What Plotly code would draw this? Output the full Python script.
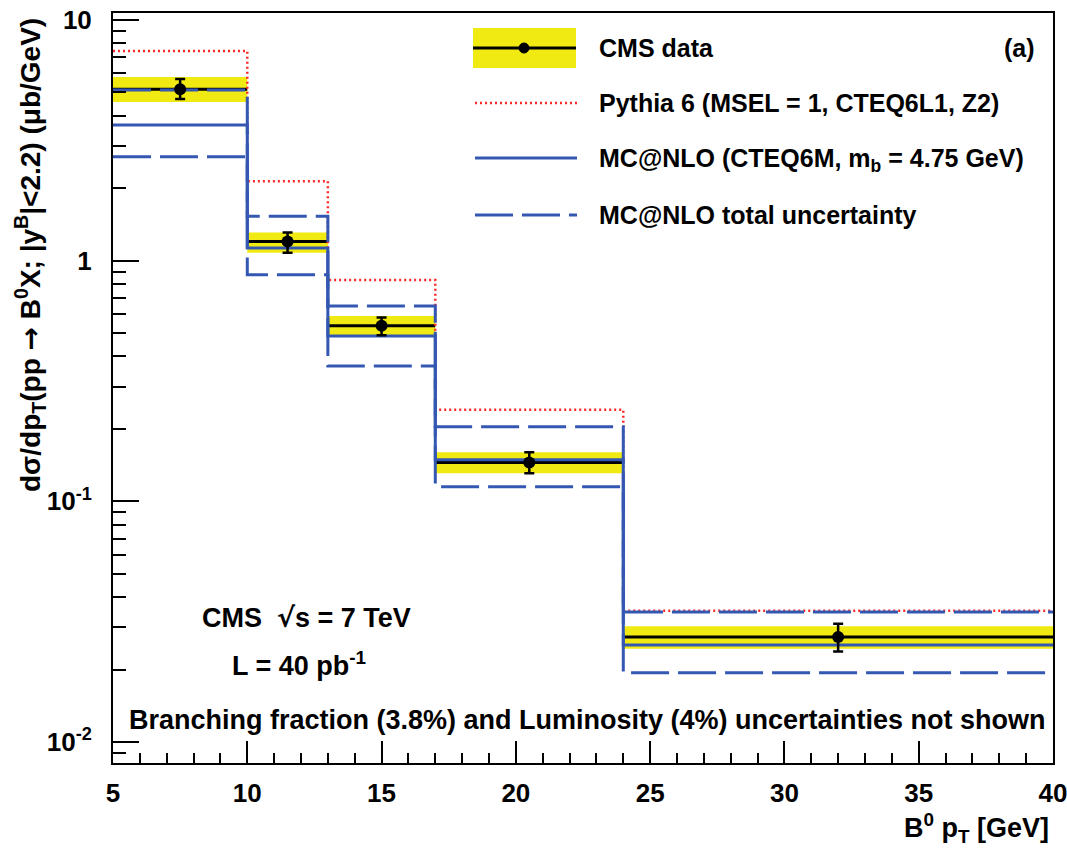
import plotly.graph_objects as go

# ---- data ----
bin_edges = [5, 10, 13, 17, 24, 40]
data_x = [7.5, 11.5, 15.0, 20.5, 32.0]
data_y = [5.15, 1.20, 0.536, 0.145, 0.0273]
data_err_up = [0.53, 0.11, 0.045, 0.015, 0.0037]
data_err_dn = [0.45, 0.12, 0.046, 0.014, 0.0035]
band_lo = [4.56, 1.08, 0.491, 0.131, 0.0244]
band_hi = [5.80, 1.31, 0.589, 0.160, 0.0303]
pythia = [7.43, 2.14, 0.832, 0.240, 0.0351]
mcnlo = [3.66, 1.13, 0.487, 0.149, 0.0253]
mcnlo_up = [5.12, 1.53, 0.648, 0.204, 0.0347]
mcnlo_dn = [2.70, 0.873, 0.365, 0.115, 0.0194]

y_tickvals = [0.01, 0.1, 1, 10]
y_ticktext = ["10<sup>-2</sup>", "10<sup>-1</sup>", "1", "10"]

# ---- style ----
FONT = "Liberation Sans Narrow, Arial Narrow, Liberation Sans, Arial"
BLUE = "rgb(52,88,178)"
RED = "rgb(255,40,40)"
YELLOW = "rgb(240,234,18)"
W, H = 1067, 854
L, R, T, B = 113, 14, 13, 91
PW, PH = W - L - R, H - T - B


def px(xp):
    return (xp - L) / PW


def py(yp):
    return (H - B - yp) / PH


def step_xy(vals):
    return list(bin_edges), list(vals) + [vals[-1]]


fig = go.Figure()

# yellow data bands
for i in range(len(band_lo)):
    x0, x1 = bin_edges[i], bin_edges[i + 1]
    fig.add_trace(go.Scatter(
        x=[x0, x1, x1, x0, x0], y=[band_lo[i], band_lo[i], band_hi[i], band_hi[i], band_lo[i]],
        fill="toself", fillcolor=YELLOW, line=dict(width=0), mode="lines",
        hoverinfo="skip", showlegend=False))

# data central horizontal lines
seg_x, seg_y = [], []
for i, v in enumerate(data_y):
    seg_x += [bin_edges[i], bin_edges[i + 1], None]
    seg_y += [v, v, None]
fig.add_trace(go.Scatter(x=seg_x, y=seg_y, mode="lines",
                         line=dict(color="black", width=3), showlegend=False))

# Pythia
sx, sy = step_xy(pythia)
fig.add_trace(go.Scatter(x=sx, y=sy, mode="lines", line_shape="hv",
                         line=dict(color=RED, width=2.5, dash="2px,3px"), showlegend=False))
# MC@NLO uncertainties
for vals in (mcnlo_up, mcnlo_dn):
    sx, sy = step_xy(vals)
    fig.add_trace(go.Scatter(x=sx, y=sy, mode="lines", line_shape="hv",
                             line=dict(color=BLUE, width=3, dash="38px,9px"), showlegend=False))
# MC@NLO central
sx, sy = step_xy(mcnlo)
fig.add_trace(go.Scatter(x=sx, y=sy, mode="lines", line_shape="hv",
                         line=dict(color=BLUE, width=3), showlegend=False))

# data points
fig.add_trace(go.Scatter(
    x=data_x, y=data_y, mode="markers",
    marker=dict(color="black", size=12, symbol="circle"),
    error_y=dict(type="data", array=data_err_up, arrayminus=data_err_dn,
                 color="black", thickness=2.5, width=5),
    showlegend=False))

# ---- manual legend ----
shapes = []
shapes.append(dict(type="rect", xref="paper", yref="paper", x0=px(473), x1=px(576),
                   y0=py(68), y1=py(28), fillcolor=YELLOW, line=dict(width=0), layer="above"))
shapes.append(dict(type="line", xref="paper", yref="paper", x0=px(473), x1=px(576),
                   y0=py(48), y1=py(48), line=dict(color="black", width=3), layer="above"))
shapes.append(dict(type="circle", xref="paper", yref="paper", x0=px(519), x1=px(529),
                   y0=py(53), y1=py(43), fillcolor="black", line=dict(color="black", width=1),
                   layer="above"))
shapes.append(dict(type="line", xref="paper", yref="paper", x0=px(475), x1=px(577),
                   y0=py(103), y1=py(103), line=dict(color=RED, width=2.5, dash="2px,3px"),
                   layer="above"))
shapes.append(dict(type="line", xref="paper", yref="paper", x0=px(475), x1=px(577),
                   y0=py(158), y1=py(158), line=dict(color=BLUE, width=3), layer="above"))
shapes.append(dict(type="line", xref="paper", yref="paper", x0=px(475), x1=px(577),
                   y0=py(215), y1=py(215), line=dict(color=BLUE, width=3, dash="38px,9px"),
                   layer="above"))

annots = []


def text(s, xp, yp, size=25, xanchor="left", yanchor="middle", angle=0):
    annots.append(dict(text=s, xref="paper", yref="paper", x=px(xp), y=py(yp),
                       xanchor=xanchor, yanchor=yanchor, showarrow=False, textangle=angle,
                       font=dict(family=FONT, size=size, color="black", weight="bold")))


ARROW = "<span style='font-family:DejaVu Sans'>→</span>"
ROOT = "<span style='font-family:DejaVu Sans'>√</span>"

text("CMS data", 597, 48)
text("(a)", 1037, 48, xanchor="right")
text("Pythia 6 (MSEL = 1, CTEQ6L1, Z2)", 597, 103)
text("MC@NLO (CTEQ6M, m<sub>b</sub> = 4.75 GeV)", 597, 160)
text("MC@NLO total uncertainty", 597, 215)
text("CMS  " + ROOT + "s = 7 TeV", 306, 617, size=27, xanchor="center")
text("L = 40 pb<sup>-1</sup>", 299, 664, size=27, xanchor="center")
text("Branching fraction (3.8%) and Luminosity (4%) uncertainties not shown", 587, 720,
     size=27, xanchor="center")
text("B<sup>0</sup> p<sub>T</sub> [GeV]", 1051, 828, size=27, xanchor="right")
text("dσ/dp<sub>T</sub>(pp " + ARROW + " B<sup>0</sup>X; |y<sup>B</sup>|<2.2) (μb/GeV)", 30, 16,
     size=28, xanchor="center", yanchor="top", angle=-90)

minor_y = [m * 10 ** e for e in (-3, -2, -1, 0, 1) for m in range(2, 10)]

fig.update_layout(
    width=W, height=H, margin=dict(l=L, r=R, t=T, b=B, autoexpand=False),
    paper_bgcolor="white", plot_bgcolor="white",
    shapes=shapes, annotations=annots, showlegend=False,
    xaxis=dict(range=[5, 40], dtick=5, tick0=5, ticks="inside", ticklen=22, tickwidth=2,
               tickcolor="black", showgrid=False, zeroline=False, showline=True,
               linecolor="black", linewidth=2, mirror=True, automargin=False,
               ticklabeloverflow="allow",
               tickfont=dict(family=FONT, size=26, color="black", weight="bold"),
               ticklabelstandoff=6,
               minor=dict(dtick=1, ticks="inside", ticklen=10, tickwidth=2,
                          tickcolor="black", showgrid=False)),
    yaxis=dict(type="log", range=[-2.087, 1.029], tickvals=y_tickvals, ticktext=y_ticktext,
               ticks="inside", ticklen=26, tickwidth=2, tickcolor="black", showgrid=False,
               zeroline=False, showline=True, linecolor="black", linewidth=2, mirror=True,
               automargin=False, ticklabeloverflow="allow",
               tickfont=dict(family=FONT, size=26, color="black", weight="bold"),
               ticklabelstandoff=14,
               minor=dict(tickvals=minor_y, ticks="inside", ticklen=13, tickwidth=2,
                          tickcolor="black", showgrid=False)),
)

fig.write_html("out.html")
